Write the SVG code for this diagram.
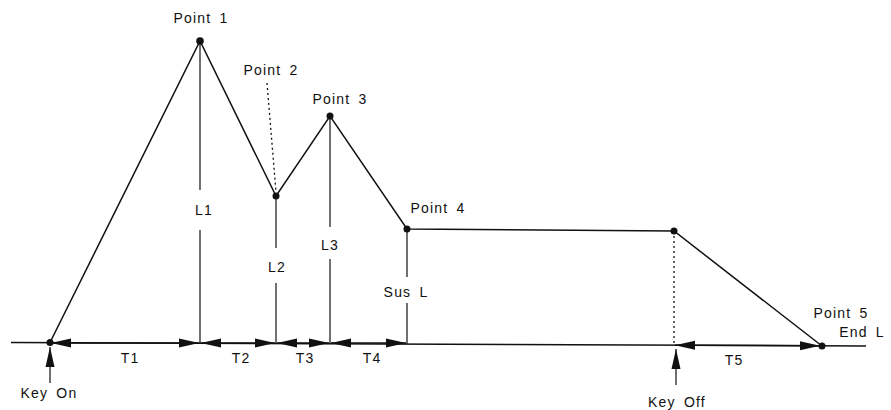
<svg xmlns="http://www.w3.org/2000/svg" width="891" height="410" viewBox="0 0 891 410">
<style>
.ln{stroke:#111;stroke-width:1.5;fill:none}
.thin{stroke:#111;stroke-width:1.2;fill:none}
.dot{stroke:#111;stroke-width:1.3;fill:none;stroke-dasharray:2 3}
.dim{stroke:#111;stroke-width:1.5;fill:none;marker-start:url(#ah);marker-end:url(#ah)}
.up{stroke:#111;stroke-width:1.2;fill:none;marker-end:url(#ah)}
.pt{fill:#111}
text{font-family:"Liberation Sans",Arial,sans-serif;font-size:14px;fill:#111;letter-spacing:1.2px;word-spacing:3px;text-anchor:middle}
</style>
<defs>
<marker id="ah" markerUnits="userSpaceOnUse" markerWidth="20" markerHeight="10" refX="20" refY="5" orient="auto-start-reverse" viewBox="0 0 20 10">
<path d="M0,0.5 L20,5 L0,9.5 z" fill="#111"/>
</marker>
</defs>
<g id="connectors">
<line id="baseline" class="ln" x1="11" y1="342.5" x2="866" y2="346"/>
<polyline id="envelope" class="ln" points="50,342.5 200,41 276,196 330,116 407,229 674,231 822,346"/>
<line class="thin" x1="200" y1="41" x2="200" y2="190"/>
<line class="thin" x1="200" y1="230" x2="200" y2="343"/>
<line class="thin" x1="276" y1="196" x2="276" y2="248"/>
<line class="thin" x1="276" y1="283" x2="276" y2="343"/>
<line class="thin" x1="330" y1="116" x2="330" y2="227"/>
<line class="thin" x1="330" y1="259" x2="330" y2="343"/>
<line class="thin" x1="407" y1="229" x2="407" y2="277"/>
<line class="thin" x1="407" y1="303" x2="407" y2="344"/>
<line class="dot" x1="267" y1="83" x2="276" y2="192"/>
<line class="dot" x1="674" y1="231" x2="674" y2="345"/>
<line class="dim" x1="51" y1="343" x2="199" y2="343"/>
<line class="dim" x1="201" y1="343" x2="275" y2="343"/>
<line class="dim" x1="277" y1="343" x2="329" y2="343"/>
<line class="dim" x1="331" y1="343" x2="406" y2="343"/>
<line class="dim" x1="675" y1="345.3" x2="820" y2="345.8"/>
<line class="up" x1="50" y1="383" x2="50" y2="347"/>
<line class="up" x1="676" y1="385" x2="676" y2="349"/>
</g>
<g id="point1"><circle class="pt" cx="200" cy="41" r="3.8"/><text x="201" y="23">Point 1</text><text x="204" y="215">L1</text></g>
<g id="point2"><circle class="pt" cx="276" cy="196" r="3.5"/><text x="271" y="75">Point 2</text><text x="277" y="272">L2</text></g>
<g id="point3"><circle class="pt" cx="330" cy="116" r="3.5"/><text x="340" y="104">Point 3</text><text x="330" y="250">L3</text></g>
<g id="point4"><circle class="pt" cx="407" cy="229" r="3.5"/><text x="438" y="213">Point 4</text><text x="406" y="297">Sus L</text></g>
<g id="keyoffpoint"><circle class="pt" cx="674" cy="231" r="3.5"/></g>
<g id="point5"><circle class="pt" cx="822" cy="346" r="3.5"/><text x="841" y="318">Point 5</text><text x="862" y="337">End L</text></g>
<g id="keyon"><circle class="pt" cx="50" cy="342.5" r="3.5"/><text x="49" y="398">Key On</text></g>
<g id="keyoff"><text x="677" y="407">Key Off</text></g>
<g id="times"><text x="130" y="363">T1</text><text x="241" y="363">T2</text><text x="305" y="363">T3</text><text x="372" y="363">T4</text><text x="734" y="365">T5</text></g>
</svg>
